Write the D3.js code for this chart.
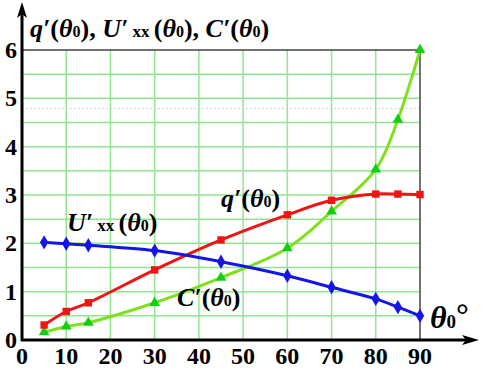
<!DOCTYPE html>
<html><head><meta charset="utf-8"><script src="https://cdn.jsdelivr.net/npm/d3@7"></script></head>
<body style="margin:0">
<div id="container"></div>
<script>
/* CONSTANTS AND GLOBALS */
const width = 485, height = 374;
const x0 = 22, x1 = 420, y0 = 340, y1 = 50;

/* DATA */
const angles = [5, 10, 15, 30, 45, 60, 70, 80, 85, 90];
const qValues = [0.31, 0.59, 0.77, 1.45, 2.07, 2.59, 2.89, 3.02, 3.02, 3.01];
const uValues = [2.02, 1.99, 1.96, 1.85, 1.62, 1.33, 1.09, 0.85, 0.68, 0.50];
const cValues = [0.16, 0.28, 0.36, 0.77, 1.29, 1.90, 2.66, 3.53, 4.56, 6.0];
const xTicks = [0, 10, 20, 30, 40, 50, 60, 70, 80, 90];
const yTicks = [0, 1, 2, 3, 4, 5, 6];

const xScale = d3.scaleLinear().domain([0, 90]).range([x0, x1]);
const yScale = d3.scaleLinear().domain([0, 6]).range([y0, y1]);

const svg = d3.select("#container").append("svg")
  .attr("width", width).attr("height", height)
  .style("font-family", '"Liberation Serif", "Times New Roman", serif')
  .style("font-weight", "bold");

// GRID
const grid = svg.append("g");
grid.selectAll("line.v")
  .data(d3.range(10, 90, 10))
  .join("line")
  .attr("x1", d => xScale(d)).attr("x2", d => xScale(d))
  .attr("y1", y0).attr("y2", y1)
  .attr("stroke", "#8fe88f").attr("stroke-width", 1.5);
grid.selectAll("line.h")
  .data(d3.range(0.5, 6, 0.5))
  .join("line")
  .attr("x1", x0).attr("x2", x1)
  .attr("y1", d => yScale(d)).attr("y2", d => yScale(d))
  .attr("stroke", "#8fe88f").attr("stroke-width", 1.5);
// faint dotted line
grid.append("line")
  .attr("x1", x0).attr("x2", x1)
  .attr("y1", yScale(4.79)).attr("y2", yScale(4.79))
  .attr("stroke", "#d0d0d0").attr("stroke-dasharray", "2,2");

// border (top & right)
svg.append("path")
  .attr("d", `M${x0},${y1}H${x1}V${y0}`)
  .attr("fill", "none").attr("stroke", "#444").attr("stroke-width", 1.5);

// AXES
svg.append("line").attr("x1", x0).attr("x2", x0).attr("y1", y0 + 1).attr("y2", 8)
  .attr("stroke", "#000").attr("stroke-width", 3);
svg.append("path").attr("d", `M${x0},2 L${x0 - 5},18 L${x0},14 L${x0 + 5},18 Z`).attr("fill", "#000");
svg.append("line").attr("x1", x0 - 1).attr("x2", 472).attr("y1", y0).attr("y2", y0)
  .attr("stroke", "#000").attr("stroke-width", 3);
svg.append("path").attr("d", `M479,${y0} L462,${y0 - 5} L466,${y0} L462,${y0 + 5} Z`).attr("fill", "#000");

svg.selectAll("text.xt")
  .data(xTicks)
  .join("text")
  .attr("x", d => xScale(d)).attr("y", 364)
  .attr("text-anchor", "middle")
  .style("font-family", d => '"Liberation Serif"').style("font-weight", "bold").style("font-size", "24px")
  .text(d => d);
svg.selectAll("text.yt")
  .data(yTicks)
  .join("text")
  .attr("x", 11).attr("y", d => yScale(d) + 8)
  .attr("text-anchor", "middle")
  .style("font-family", d => '"Liberation Serif"').style("font-weight", "bold").style("font-size", "24px")
  .text(d => d);

// LINES
const series = [
  { values: cValues, color: "#7fe020", mark: "#10d010", symbol: d3.symbolTriangle, size: 50 },
  { values: qValues, color: "#ee1515", mark: "#ee1515", symbol: d3.symbolSquare, size: 55 },
  { values: uValues, color: "#1515e8", mark: "#1515e8", symbol: d3.symbolDiamond, size: 60 }
];

const lineGen = d3.line()
  .x((d, i) => xScale(angles[i]))
  .y(d => yScale(d))
  .curve(d3.curveCatmullRom);

series.forEach(s => {
  svg.append("path")
    .attr("d", lineGen(s.values))
    .attr("fill", "none").attr("stroke", s.color).attr("stroke-width", 3);
  svg.selectAll(null)
    .data(s.values)
    .join("path")
    .attr("transform", (d, i) => `translate(${xScale(angles[i])},${yScale(d)})`)
    .attr("d", d3.symbol().type(s.symbol).size(s.size))
    .attr("fill", s.mark);
});

// LABELS
function makeText(x, y, size) {
  return svg.append("text").attr("x", x).attr("y", y)
    .style("font-family", '"Liberation Serif"').style("font-weight", "bold").style("font-size", size + "px");
}
function label(sel, sym, sub) {
  sel.append("tspan").style("font-style", "italic").text(sym);
  if (sub) sel.append("tspan").style("font-size", "17px").text(sub);
  sel.append("tspan").text("(");
  sel.append("tspan").style("font-style", "italic").text("θ");
  sel.append("tspan").style("font-size", "16px").text("0");
  sel.append("tspan").text(")");
}
const title = makeText(30, 37, 26);
label(title, "q′");
title.append("tspan").text(",  ");
label(title, "U′", " xx ");
title.append("tspan").text(",  ");
label(title, "C′");

label(makeText(221, 207, 26), "q′");
label(makeText(67, 231, 26), "U′", " xx ");
label(makeText(177, 306, 26), "C′");

const th = makeText(430, 328, 32).style("font-style", "italic");
th.append("tspan").text("θ");
th.append("tspan").style("font-size", "19px").style("font-style", "normal").text("0");
th.append("tspan").style("font-style", "normal").attr("dy", -2).text("°");
</script>
</body>
</html>
